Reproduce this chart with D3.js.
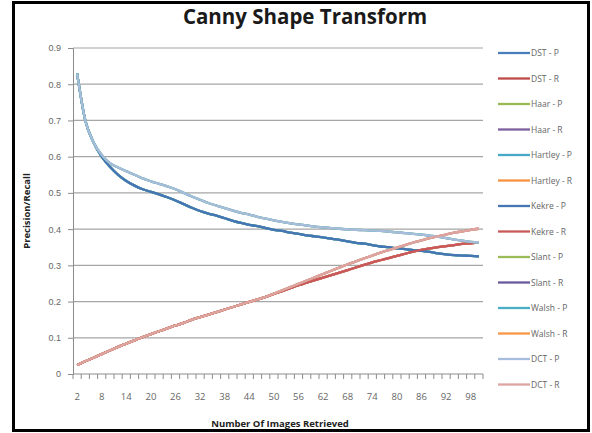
<!DOCTYPE html>
<html>
<head>
<meta charset="utf-8">
<script src="https://cdn.jsdelivr.net/npm/d3@7"></script>
<style>
  body { margin: 0; background: #fff; }
  svg { display: block; font-family: "Open Sans", "Liberation Sans", sans-serif; }
</style>
</head>
<body>
<svg id="chart" width="592" height="433"></svg>
<script>
// number of images retrieved: 2, 4, ... 100
let retrieved = [2,4,6,8,10,12,14,16,18,20,22,24,26,28,30,32,34,36,38,40,42,44,46,48,50,
                 52,54,56,58,60,62,64,66,68,70,72,74,76,78,80,82,84,86,88,90,92,94,96,98,100];
let xLabels = [2,8,14,20,26,32,38,44,50,56,62,68,74,80,86,92,98];
let yTicks = [0,0.1,0.2,0.3,0.4,0.5,0.6,0.7,0.8,0.9];

// precision, lower curve (DST, Haar, Hartley, Kekre)
let precLow = [0.83,0.70,0.64,0.60,0.572,0.55,0.533,0.52,0.51,0.503,0.496,0.488,0.479,0.469,0.459,0.45,0.443,0.437,0.43,0.423,
               0.417,0.412,0.408,0.403,0.398,0.395,0.39,0.387,0.383,0.38,0.377,0.374,0.37,0.366,0.362,0.36,0.356,0.352,0.35,0.347,
               0.345,0.342,0.34,0.337,0.333,0.33,0.328,0.327,0.326,0.325];
// precision, upper curve (Slant, Walsh, DCT)
let precHigh = [0.83,0.70,0.64,0.605,0.582,0.57,0.56,0.55,0.54,0.532,0.525,0.518,0.51,0.50,0.49,0.481,0.472,0.465,0.458,0.451,
                0.445,0.44,0.434,0.429,0.424,0.42,0.416,0.413,0.41,0.407,0.405,0.403,0.401,0.399,0.398,0.397,0.396,0.395,0.393,0.391,
                0.389,0.387,0.385,0.382,0.379,0.375,0.371,0.368,0.365,0.363];
// recall, lower curve
let recLow = [0.025,0.035,0.045,0.055,0.065,0.075,0.084,0.093,0.102,0.11,0.118,0.126,0.134,0.141,0.15,0.157,0.164,0.171,0.178,0.185,
              0.192,0.199,0.206,0.213,0.221,0.229,0.237,0.245,0.252,0.259,0.266,0.273,0.28,0.287,0.294,0.301,0.308,0.314,0.32,0.326,
              0.332,0.338,0.343,0.347,0.35,0.353,0.356,0.359,0.361,0.363];
// recall, upper curve
let recHigh = [0.025,0.035,0.045,0.055,0.065,0.075,0.084,0.093,0.102,0.11,0.118,0.126,0.134,0.141,0.15,0.157,0.164,0.171,0.178,0.185,
               0.192,0.199,0.206,0.213,0.222,0.231,0.24,0.249,0.258,0.267,0.276,0.285,0.294,0.303,0.311,0.319,0.327,0.335,0.342,0.349,
               0.356,0.363,0.369,0.375,0.38,0.385,0.39,0.394,0.398,0.401];

let seriesNames = ["DST - P","DST - R","Haar - P","Haar - R","Hartley - P","Hartley - R","Kekre - P","Kekre - R",
                   "Slant - P","Slant - R","Walsh - P","Walsh - R","DCT - P","DCT - R"];
let seriesData = [precLow, recLow, precLow, recLow, precLow, recLow, precLow, recLow,
                  precHigh, recHigh, precHigh, recHigh, precHigh, recHigh];
let seriesColors = ["#4A7EBB","#BE4B48","#98B954","#7D60A0","#46AAC5","#F69240","#4576B3","#C8585A",
                    "#9BBB59","#6A5A9B","#4BACC6","#F79646","#A7BDDB","#DDA4A2"];

let svg = d3.select('#chart');
let pad = {l: 73, r: 483, t: 48, b: 374};

let x = d3.scaleBand().domain(retrieved).range([pad.l, pad.r]).padding(0);
let y = d3.scaleLinear().domain([0, 0.9]).range([pad.b, pad.t]);

// outer frame
svg.append('rect')
    .attr('x', 13.5).attr('y', 2.5).attr('width', 575).attr('height', 428)
    .attr('fill', 'none').attr('stroke', '#000').attr('stroke-width', 3);

// title
svg.append('text')
    .attr('x', 305).attr('y', 24)
    .attr('text-anchor', 'middle')
    .attr('font-size', '20.5px').attr('font-weight', 'bold').attr('fill', '#1a1a1a')
    .text('Canny Shape Transform');

// gridlines
svg.append('g').selectAll('line')
    .data(yTicks.slice(1))
    .enter().append('line')
    .attr('x1', pad.l).attr('x2', pad.r)
    .attr('y1', d => y(d)).attr('y2', d => y(d))
    .attr('stroke', '#a6a6a6').attr('stroke-width', 1.2);

// y axis
let yAxis = svg.append('g')
    .attr('transform', 'translate(' + pad.l + ',0)')
    .call(d3.axisLeft(y).tickValues(yTicks).tickSize(5).tickPadding(7).tickFormat(d => d === 0 ? '0' : d3.format('.1f')(d)));
yAxis.select('.domain').attr('stroke', '#8c8c8c');
yAxis.selectAll('.tick line').attr('stroke', '#8c8c8c');
yAxis.selectAll('text').attr('font-size', '9px').attr('fill', '#666').attr('font-family', 'inherit');

// x axis, ticks between categories
let xAxisG = svg.append('g').attr('transform', 'translate(0,' + pad.b + ')');
xAxisG.append('line')
    .attr('x1', pad.l).attr('x2', pad.r).attr('y1', 0).attr('y2', 0)
    .attr('stroke', '#8c8c8c');
xAxisG.selectAll('line.tk')
    .data(retrieved)
    .enter().append('line').attr('class', 'tk')
    .attr('x1', d => x(d) + x.bandwidth()).attr('x2', d => x(d) + x.bandwidth())
    .attr('y1', 0).attr('y2', 5)
    .attr('stroke', '#8c8c8c');
xAxisG.append('line')
    .attr('x1', pad.l).attr('x2', pad.l).attr('y1', 0).attr('y2', 5)
    .attr('stroke', '#8c8c8c');
xAxisG.selectAll('text')
    .data(xLabels)
    .enter().append('text')
    .attr('x', d => x(d) + x.bandwidth() / 2)
    .attr('y', 26)
    .attr('text-anchor', 'middle')
    .attr('font-size', '9.5px').attr('fill', '#666')
    .text(d => d);

// axis titles
svg.append('text')
    .attr('x', 280).attr('y', 427)
    .attr('text-anchor', 'middle')
    .attr('font-size', '9.5px').attr('font-weight', 'bold').attr('fill', '#222')
    .text('Number Of Images Retrieved');
svg.append('text')
    .attr('transform', 'translate(30,211) rotate(-90)')
    .attr('text-anchor', 'middle')
    .attr('font-size', '9.5px').attr('font-weight', 'bold').attr('fill', '#222')
    .text('Precision/Recall');

// lines
let line = d3.line()
    .x((d, i) => x(retrieved[i]) + x.bandwidth() / 2)
    .y(d => y(d))
    .curve(d3.curveMonotoneX);

svg.append('g').selectAll('path')
    .data(seriesData)
    .enter().append('path')
    .attr('d', line)
    .attr('fill', 'none')
    .attr('stroke', (d, i) => seriesColors[i])
    .attr('stroke-width', 2.3)
    .attr('stroke-linejoin', 'round');

// legend
let legend = svg.append('g').selectAll('g')
    .data(seriesNames)
    .enter().append('g')
    .attr('transform', (d, i) => 'translate(498,' + (53 + i * 25.5) + ')');
legend.append('line')
    .attr('x1', 0).attr('x2', 32).attr('y1', 0).attr('y2', 0)
    .attr('stroke', (d, i) => seriesColors[i]).attr('stroke-width', 2.3);
legend.append('text')
    .attr('x', 33).attr('y', 3)
    .attr('font-size', '8.5px').attr('fill', '#666')
    .text(d => d);
</script>
</body>
</html>
